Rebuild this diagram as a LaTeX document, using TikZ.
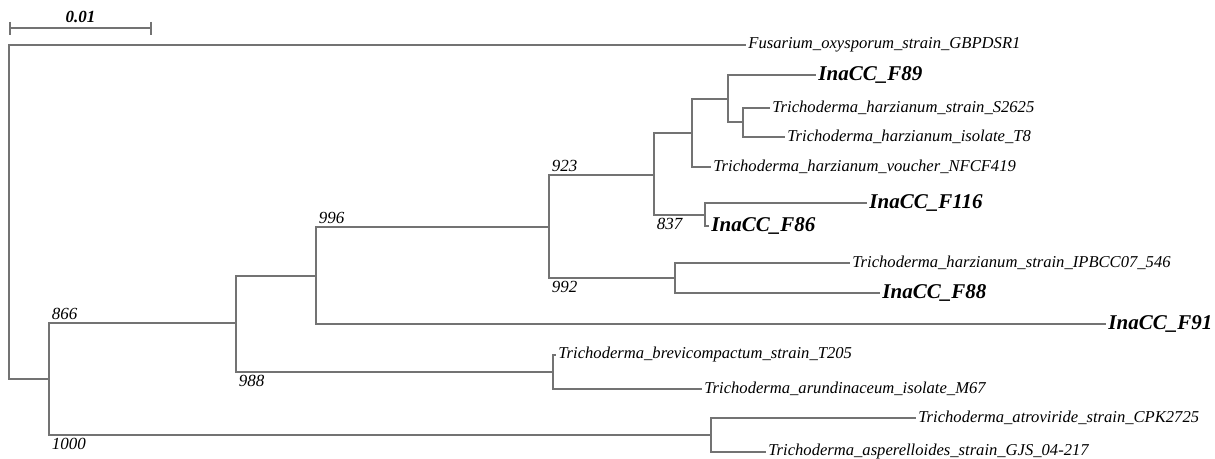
\documentclass[tikz,border=0pt]{standalone}
\usepackage{fontspec}
\setmainfont{Liberation Serif}
\usepackage{tikz}

\begin{document}
\begin{tikzpicture}[x=0.5pt, y=-0.5pt,
		edge_style/.style={draw=black!55, line width=0.9pt},
		leaf_style/.style={anchor=west, inner sep=1pt, font=\fontsize{8.3}{10}\selectfont\itshape},
		isolate_style/.style={anchor=west, inner sep=1pt, font=\fontsize{10.5}{12}\selectfont\bfseries\itshape},
		boot_above/.style={pos=0.5, anchor=south west, inner sep=1pt, font=\fontsize{8.5}{10}\selectfont\itshape},
		boot_below/.style={pos=0.5, anchor=north west, inner sep=1pt, font=\fontsize{8.5}{10}\selectfont\itshape}]
		
		\useasboundingbox[fill=white] (0,0) rectangle (1215,459);
		
		% scale bar
		\draw[edge_style] (10,22) -- (10,35) (151,22) -- (151,35);
		\draw[edge_style] (10,28) -- node[above, inner sep=2pt, font=\fontsize{8.5}{10}\selectfont\bfseries\itshape] (scale) {0.01} (151,28);
		
		% internal nodes
		\coordinate (root) at (9,212);
		\coordinate (nA) at (49,379);
		\coordinate (n866) at (236,323);
		\coordinate (n1000) at (711,435);
		\coordinate (nB) at (316,276);
		\coordinate (n988) at (553,372);
		\coordinate (n996) at (549,227);
		\coordinate (n923) at (654,175);
		\coordinate (n992) at (675,278);
		\coordinate (nC) at (692,133);
		\coordinate (n837) at (705,215);
		\coordinate (nD) at (728,99);
		\coordinate (nE) at (743,122);
		
		% leaves
		\node[leaf_style] (lFus) at (746,45) {Fusarium\_oxysporum\_strain\_GBPDSR1};
		\node[isolate_style] (lF89) at (816,75) {InaCC\_F89};
		\node[leaf_style] (lS2625) at (770,108) {Trichoderma\_harzianum\_strain\_S2625};
		\node[leaf_style] (lT8) at (785,137) {Trichoderma\_harzianum\_isolate\_T8};
		\node[leaf_style] (lNFCF) at (711,167) {Trichoderma\_harzianum\_voucher\_NFCF419};
		\node[isolate_style] (lF116) at (867,203) {InaCC\_F116};
		\node[isolate_style] (lF86) at (709,226) {InaCC\_F86};
		\node[leaf_style] (lIPB) at (850,263) {Trichoderma\_harzianum\_strain\_IPBCC07\_546};
		\node[isolate_style] (lF88) at (880,293) {InaCC\_F88};
		\node[isolate_style] (lF91) at (1106,324) {InaCC\_F91};
		\node[leaf_style] (lT205) at (556,355) {Trichoderma\_brevicompactum\_strain\_T205};
		\node[leaf_style] (lM67) at (702,389) {Trichoderma\_arundinaceum\_isolate\_M67};
		\node[leaf_style] (lCPK) at (916,418) {Trichoderma\_atroviride\_strain\_CPK2725};
		\node[leaf_style] (lGJS) at (766,452) {Trichoderma\_asperelloides\_strain\_GJS\_04-217};
		
		% branches
		\draw[edge_style] (root) |- (lFus.west);
		\draw[edge_style] (root) |- (nA);
		\draw[edge_style] (nA) |- node[boot_above]{866} (n866);
		\draw[edge_style] (nA) |- node[boot_below]{1000} (n1000);
		\draw[edge_style] (n866) |- (nB);
		\draw[edge_style] (n866) |- node[boot_below]{988} (n988);
		\draw[edge_style] (nB) |- node[boot_above]{996} (n996);
		\draw[edge_style] (nB) |- (lF91.west);
		\draw[edge_style] (n996) |- node[boot_above]{923} (n923);
		\draw[edge_style] (n996) |- node[boot_below]{992} (n992);
		\draw[edge_style] (n923) |- (nC);
		\draw[edge_style] (n923) |- node[boot_below]{837} (n837);
		\draw[edge_style] (nC) |- (nD);
		\draw[edge_style] (nC) |- (lNFCF.west);
		\draw[edge_style] (nD) |- (lF89.west);
		\draw[edge_style] (nD) |- (nE);
		\draw[edge_style] (nE) |- (lS2625.west);
		\draw[edge_style] (nE) |- (lT8.west);
		\draw[edge_style] (n837) |- (lF116.west);
		\draw[edge_style] (n837) |- (lF86.west);
		\draw[edge_style] (n992) |- (lIPB.west);
		\draw[edge_style] (n992) |- (lF88.west);
		\draw[edge_style] (n988) |- (lT205.west);
		\draw[edge_style] (n988) |- (lM67.west);
		\draw[edge_style] (n1000) |- (lCPK.west);
		\draw[edge_style] (n1000) |- (lGJS.west);
		
\end{tikzpicture}
\end{document}
